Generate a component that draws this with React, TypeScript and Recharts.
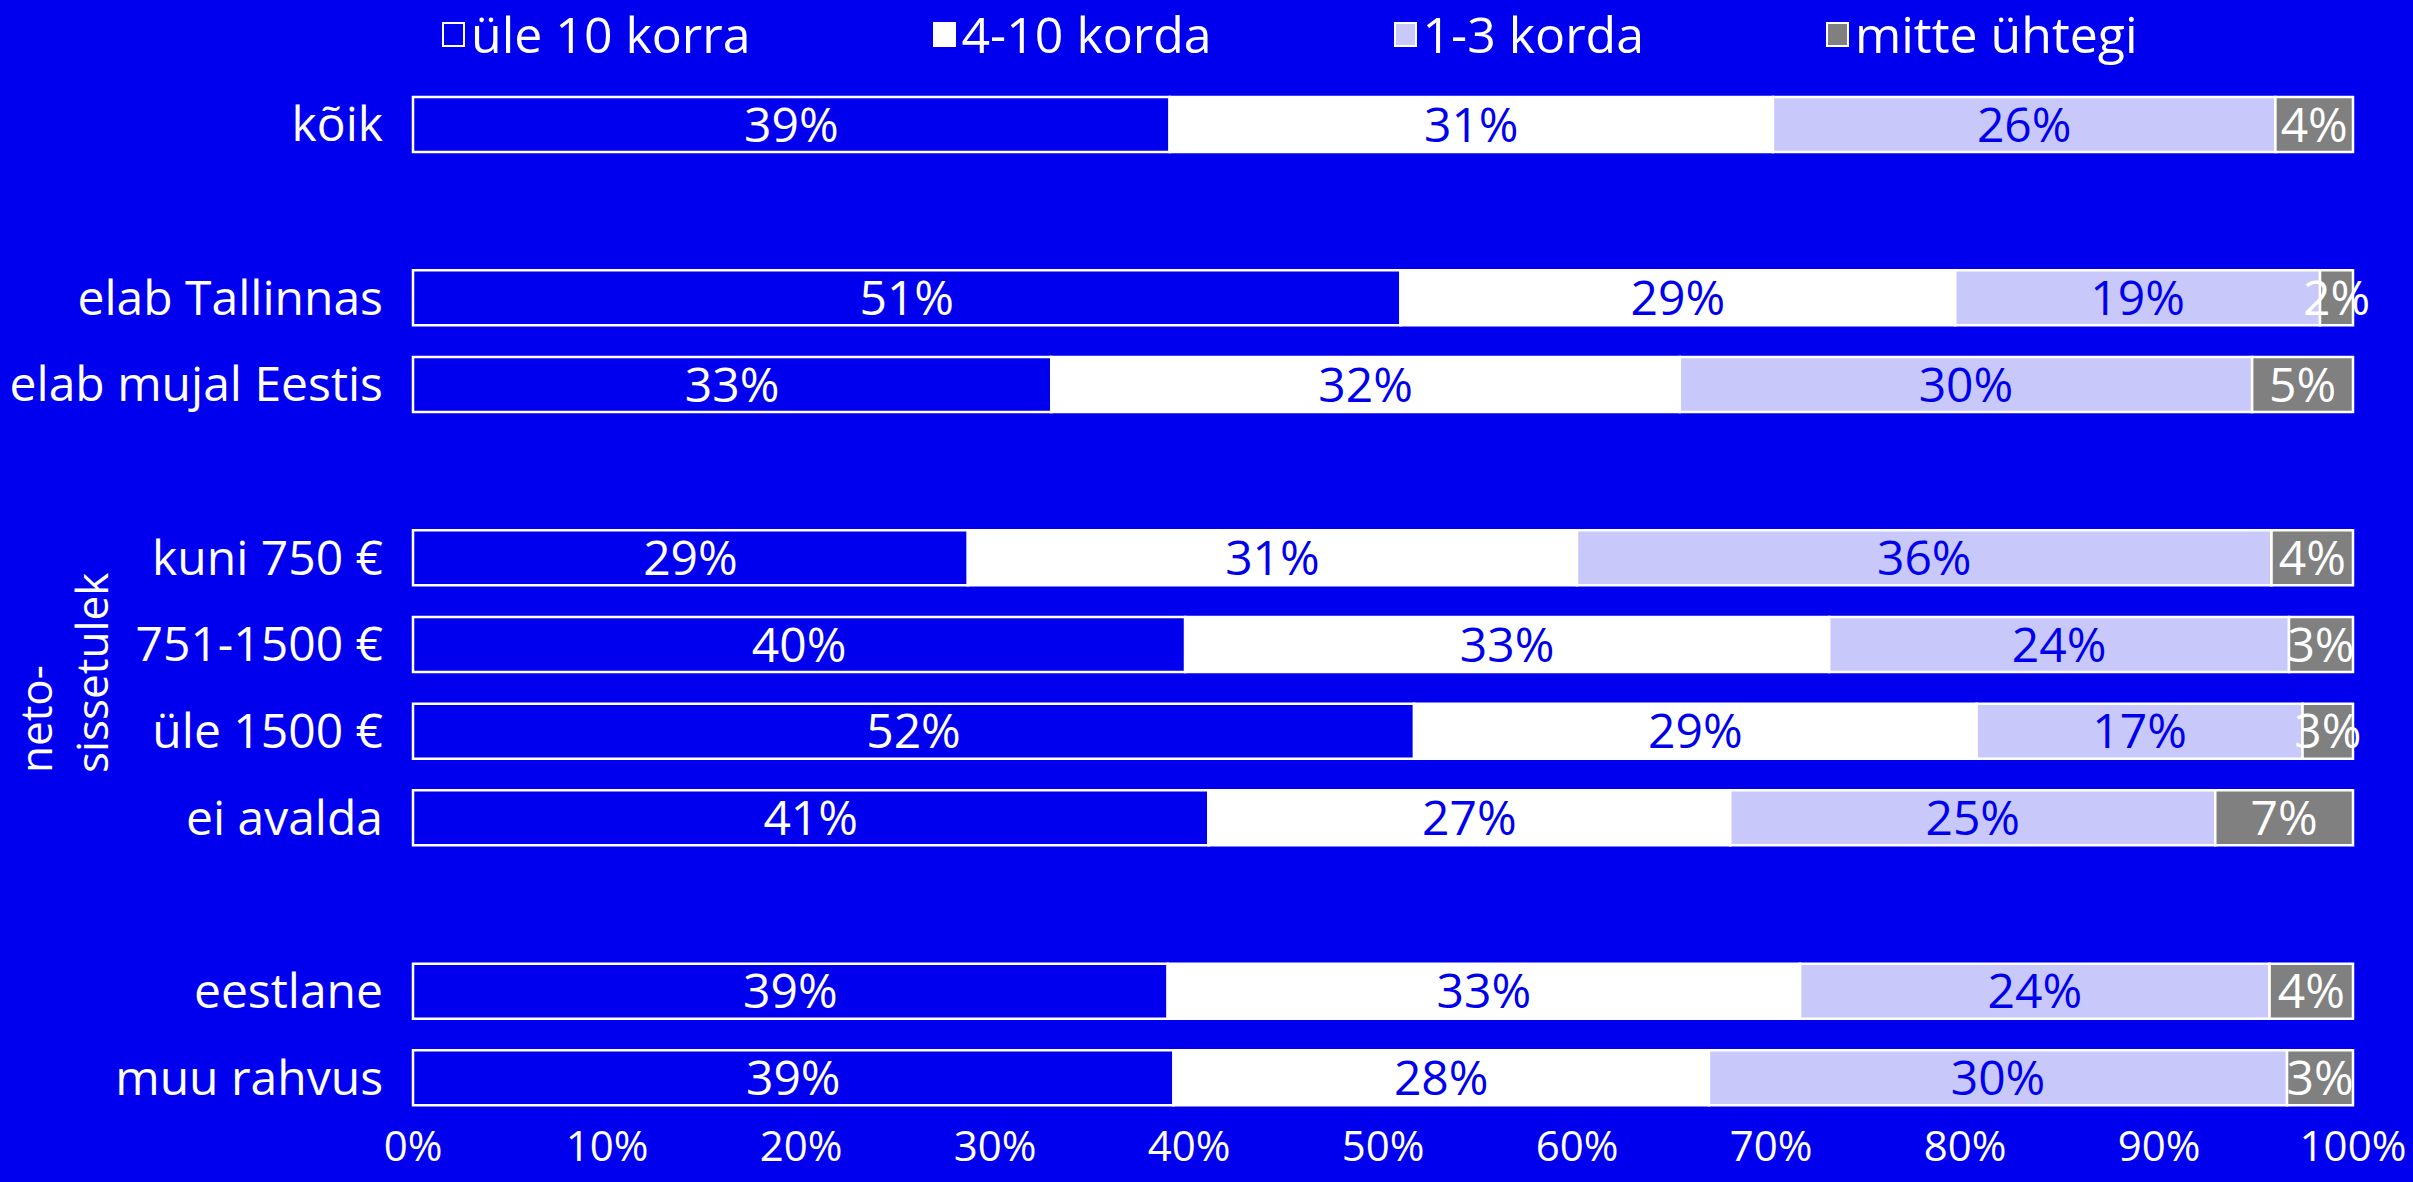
import React from "react";
import { BarChart, Bar, XAxis, YAxis, LabelList } from "recharts";

const BLUE = "#0000EE";
const FONT = "'Open Sans', sans-serif";

// row labels, empty strings are the spacer rows between groups
const categories = [
  "kõik", "",
  "elab Tallinnas", "elab mujal Eestis", "",
  "kuni 750 €", "751-1500 €", "üle 1500 €", "ei avalda", "",
  "eestlane", "muu rahvus",
];

const over10 = [39.0, null, 50.9, 32.9, null, 28.6, 39.8, 51.6, 41.0, null, 38.9, 39.2];
const from4to10 = [31.1, null, 28.6, 32.4, null, 31.4, 33.2, 29.0, 26.9, null, 32.6, 27.6];
const from1to3 = [25.9, null, 18.8, 29.5, null, 35.8, 23.7, 16.8, 25.0, null, 24.2, 29.8];
const never = [4.0, null, 1.7, 5.2, null, 4.2, 3.3, 2.6, 7.1, null, 4.3, 3.4];

const xTicks = [0, 10, 20, 30, 40, 50, 60, 70, 80, 90, 100];

const series = [
  { key: "over10", name: "üle 10 korra", fill: BLUE, text: "#fff" },
  { key: "from4to10", name: "4-10 korda", fill: "#fff", text: BLUE },
  { key: "from1to3", name: "1-3 korda", fill: "#C8C8FA", text: BLUE },
  { key: "never", name: "mitte ühtegi", fill: "#808080", text: "#fff" },
];

const data = categories.map((c, i) => ({
  row: `r${i}`,
  over10: over10[i],
  from4to10: from4to10[i],
  from1to3: from1to3[i],
  never: never[i],
}));

const fmt = (v: any) => (v == null ? "" : `${Math.round(v)}%`);

const SideLabel = () => (
  <g fill="#fff" fontFamily={FONT} fontSize={44}>
    <text transform="translate(52,773) rotate(-90)">neto-</text>
    <text transform="translate(108,773) rotate(-90)">sissetulek</text>
  </g>
);

export default function App() {
  return (
    <div
      style={{
        position: "absolute", left: 0, top: 0, width: 2413, height: 1182,
        background: BLUE, fontFamily: FONT, overflow: "hidden",
      }}
    >
      <div
        style={{
          position: "absolute", left: 442, top: 6, display: "flex",
          gap: 182, color: "#fff", fontSize: 50, lineHeight: "56px",
        }}
      >
        {series.map((s) => (
          <div key={s.key} style={{ display: "flex", alignItems: "center", gap: 6 }}>
            <div
              style={{
                width: 19, height: 21, background: s.fill,
                border: "2px solid #fff",
              }}
            />
            <span>{s.name}</span>
          </div>
        ))}
      </div>
      <BarChart
        width={2413}
        height={1182}
        data={data}
        layout="vertical"
        margin={{ top: 81, right: 60, left: 0, bottom: 0 }}
        barSize={55}
      >
        <XAxis
          type="number"
          domain={[0, 100]}
          ticks={xTicks}
          tickFormatter={(v) => `${v}%`}
          axisLine={false}
          tickLine={false}
          tickSize={0}
          tickMargin={10}
          height={61}
          interval={0}
          tick={{ fill: "#fff", fontSize: 42, fontFamily: FONT }}
        />
        <YAxis
          type="category"
          dataKey="row"
          width={413}
          axisLine={false}
          tickLine={false}
          tickSize={0}
          tickMargin={30}
          interval={0}
          tickFormatter={(_v, i) => categories[i]}
          tick={{ fill: "#fff", fontSize: 48, fontFamily: FONT }}
          label={<SideLabel />}
        />
        {series.map((s) => (
          <Bar
            key={s.key}
            dataKey={s.key}
            name={s.name}
            stackId="a"
            fill={s.fill}
            stroke="#fff"
            strokeWidth={2.5}
            isAnimationActive={false}
          >
            <LabelList
              dataKey={s.key}
              position="center"
              formatter={fmt}
              fill={s.text}
              style={{ fontSize: 48, fontFamily: FONT }}
            />
          </Bar>
        ))}
      </BarChart>
    </div>
  );
}
